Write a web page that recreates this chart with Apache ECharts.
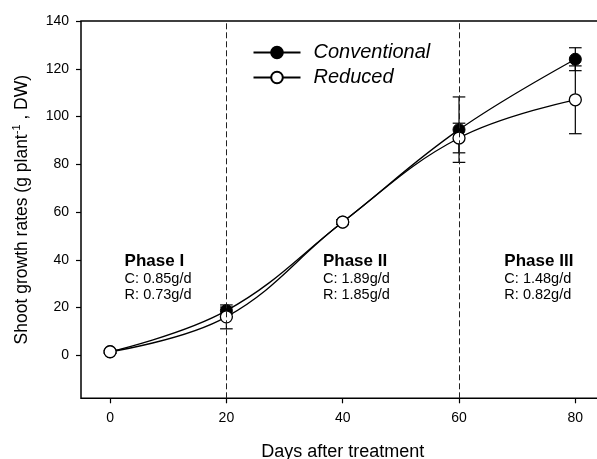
<!DOCTYPE html>
<html><head><meta charset="utf-8">
<script src="https://cdn.jsdelivr.net/npm/echarts@6/dist/echarts.min.js"></script>
<style>html,body{margin:0;padding:0;background:#fff}#c{width:597px;height:459px}</style>
</head><body><div id="c"></div>
<script>
// ---- data ----
const days = [0, 20, 40, 60, 80];
const conventional = [1.5, 18.7, 55.8, 94.5, 124];
const conventionalErr = [0.6, 1.5, 1, 13.7, 4.8];
const reduced = [1.5, 16.1, 55.8, 91, 107];
const reducedErr = [0.6, 5, 1, 6.2, 14.2];
const xTicks = [0, 20, 40, 60, 80];
const yTicks = [0, 20, 40, 60, 80, 100, 120, 140];
const phaseBoundaries = [20, 60];
const phaseNames = ['Phase I', 'Phase II', 'Phase III'];
const phaseRateC = ['0.85g/d', '1.89g/d', '1.48g/d'];
const phaseRateR = ['0.73g/d', '1.85g/d', '0.82g/d'];
// anchor of each phase label block (data coords)
const phaseAnchorX = [2.5, 36.6, 67.8];
const phaseAnchorY = [39.5, 39.5, 39.5];

const FONT = '"Liberation Sans", Arial, sans-serif';
const chart = echarts.init(document.getElementById('c'), null, {renderer: 'canvas'});

function errData(means, errs) {
  return days.map((d, i) => [d, means[i] - errs[i], means[i] + errs[i]]);
}
function errRender(params, api) {
  const x = api.value(0), lo = api.value(1), hi = api.value(2);
  const p1 = api.coord([x, lo]), p2 = api.coord([x, hi]);
  const w = 6.3;
  const st = {stroke: '#000', lineWidth: 1.2};
  return {type: 'group', children: [
    {type: 'line', shape: {x1: p1[0], y1: p1[1], x2: p2[0], y2: p2[1]}, style: st},
    {type: 'line', shape: {x1: p1[0] - w, y1: p1[1], x2: p1[0] + w, y2: p1[1]}, style: st},
    {type: 'line', shape: {x1: p2[0] - w, y1: p2[1], x2: p2[0] + w, y2: p2[1]}, style: st}
  ]};
}

const option = {
  animation: false,
  backgroundColor: '#fff',
  textStyle: {fontFamily: FONT},
  grid: {left: 81, top: 21, right: -7.4, bottom: 60.7, show: true, borderColor: '#000', borderWidth: 1.5,
         backgroundColor: 'transparent', outerBoundsMode: 'none', containLabel: false},
  legend: {
    orient: 'vertical', left: 247.5, top: 37.5,
    data: ['Conventional', 'Reduced'],
    itemWidth: 47, itemHeight: 14.5, itemGap: 5,
    textStyle: {fontFamily: FONT, fontSize: 20, fontStyle: 'italic', color: '#000', lineHeight: 20, padding: [0, 0, 0, 8]}
  },
  xAxis: {
    type: 'value', min: -5, max: 85,
    name: 'Days after treatment', nameLocation: 'middle', nameGap: 45,
    nameTextStyle: {fontFamily: FONT, fontSize: 18, color: '#000'},
    axisLine: {show: false, onZero: false},
    axisTick: {show: true, length: 5, customValues: xTicks, lineStyle: {color: '#000', width: 1.2}},
    axisLabel: {customValues: xTicks, margin: 13, fontSize: 14, color: '#000', fontFamily: FONT},
    splitLine: {show: false}
  },
  yAxis: {
    type: 'value', min: -18, max: 140,
    name: '{t|Shoot growth rates (g plant}{s|-1}{t| , DW)}', nameLocation: 'middle', nameGap: 48, nameRotate: 90,
    nameTextStyle: {fontFamily: FONT, color: '#000',
      rich: {t: {fontSize: 17.5, fontFamily: FONT, color: '#000', lineHeight: 22},
             s: {fontSize: 11, fontFamily: FONT, color: '#000', verticalAlign: 'top', lineHeight: 11}}},
    axisLine: {show: false, onZero: false},
    axisTick: {show: true, length: 5, customValues: yTicks, lineStyle: {color: '#000', width: 1.2}},
    axisLabel: {customValues: yTicks, margin: 12, fontSize: 14, color: '#000', fontFamily: FONT},
    splitLine: {show: false}
  },
  series: [
    {
      type: 'custom', name: 'errC', z: 2, renderItem: errRender,
      encode: {x: 0, y: [1, 2]}, data: errData(conventional, conventionalErr), silent: true
    },
    {
      type: 'custom', name: 'errR', z: 2, renderItem: errRender,
      encode: {x: 0, y: [1, 2]}, data: errData(reduced, reducedErr), silent: true
    },
    {
      name: 'Conventional', type: 'line', z: 3, smooth: 0.4,
      data: days.map((d, i) => [d, conventional[i]]),
      symbol: 'circle', symbolSize: 12,
      itemStyle: {color: '#000', borderColor: '#000', borderWidth: 1},
      lineStyle: {color: '#000', width: 1.3},
      markLine: {
        silent: true, symbol: ['none', 'none'], label: {show: false},
        lineStyle: {color: '#222', width: 1, type: [6, 3]},
        data: phaseBoundaries.map(v => ({xAxis: v}))
      }
    },
    {
      name: 'Reduced', type: 'line', z: 4, smooth: 0.4,
      data: days.map((d, i) => [d, reduced[i]]),
      symbol: 'circle', symbolSize: 12,
      itemStyle: {color: '#fff', borderColor: '#000', borderWidth: 1.3},
      lineStyle: {color: '#000', width: 1.3}
    },
    {
      type: 'custom', name: 'phases', z: 5, silent: true,
      encode: {x: 0, y: 1},
      data: phaseNames.map((n, i) => [phaseAnchorX[i], phaseAnchorY[i], i]),
      renderItem: function (params, api) {
        const p = api.coord([api.value(0), api.value(1)]);
        const i = api.value(2);
        const base = {fill: '#000', align: 'left', verticalAlign: 'middle'};
        return {type: 'group', children: [
          {type: 'text', x: p[0], y: p[1], style: Object.assign({text: phaseNames[i], font: 'bold 17px ' + FONT}, base)},
          {type: 'text', x: p[0], y: p[1] + 18.5, style: Object.assign({text: 'C: ' + phaseRateC[i], font: '14.5px ' + FONT}, base)},
          {type: 'text', x: p[0], y: p[1] + 34.5, style: Object.assign({text: 'R: ' + phaseRateR[i], font: '14.5px ' + FONT}, base)}
        ]};
      }
    }
  ]
};
chart.setOption(option);
</script>
</body></html>
